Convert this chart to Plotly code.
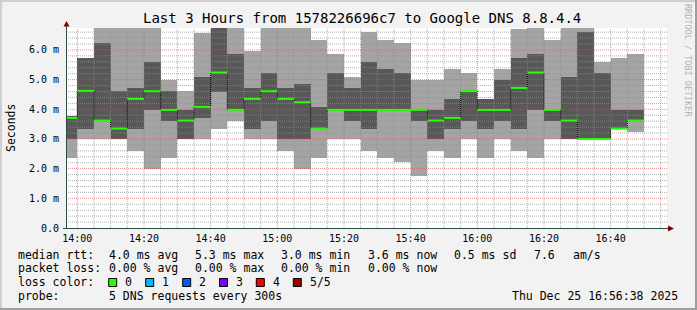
import plotly.graph_objects as go
import numpy as np

# ---------------- data ----------------
# bar start times, minutes relative to 14:00 (5-minute steps)
bar_start = [-5, 0, 5, 10, 15, 20, 25, 30, 35, 40, 45, 50, 55, 60, 65, 70, 75, 80,
             85, 90, 95, 100, 105, 110, 115, 120, 125, 130, 135, 140, 145, 150, 155, 160, 165]
ping_min = [2.35, 3.0, 3.0, 3.0, 2.60, 1.99, 2.35, 3.0, 3.0, 3.34, 3.61, 3.0, 3.0, 2.60, 1.99, 2.35, 3.0, 3.0,
            2.60, 2.35, 2.24, 1.74, 2.60, 2.35, 3.0, 2.35, 3.0, 2.60, 2.35, 3.0, 3.0, 3.0, 3.0, 3.34, 3.24]
ping_lo = [3.0, 3.34, 3.62, 3.0, 3.34, 3.98, 3.61, 3.0, 3.72, 4.60, 3.98, 3.34, 3.61, 3.0, 3.0, 3.34, 3.98, 3.61,
           3.34, 3.98, 3.98, 3.61, 3.0, 3.34, 3.61, 3.34, 3.61, 3.34, 3.98, 3.61, 3.0, 3.0, 3.0, 3.34, 3.62]
ping_med = [3.71, 4.62, 3.62, 3.35, 4.35, 4.61, 3.98, 3.62, 4.08, 5.24, 3.98, 4.35, 4.61, 4.35, 4.24, 3.35, 3.98, 3.98,
            3.98, 3.98, 3.98, 3.98, 3.62, 3.71, 4.61, 3.98, 3.98, 4.72, 5.24, 3.98, 3.62, 3.0, 3.0, 3.35, 3.62]
ping_hi = [3.76, 5.74, 6.25, 4.62, 4.72, 5.60, 4.62, 3.98, 5.10, 7.20, 5.87, 4.72, 5.21, 4.72, 4.85, 4.09, 5.21, 4.72,
           5.60, 5.36, 5.21, 3.98, 3.98, 4.35, 4.62, 4.35, 4.99, 5.74, 5.87, 3.98, 5.10, 6.59, 5.21, 3.98, 3.98]
ping_max = [3.76, 5.74, 7.5, 7.5, 7.5, 7.5, 4.99, 4.62, 6.58, 7.5, 7.5, 5.96, 7.5, 7.5, 7.5, 6.34, 5.87, 5.10,
            6.59, 6.34, 6.23, 4.99, 4.99, 5.36, 5.24, 4.35, 5.36, 6.70, 7.5, 6.34, 7.5, 7.5, 5.60, 5.74, 5.87]
step_minutes = 5

x_tick_vals = [0, 20, 40, 60, 80, 100, 120, 140, 160]
x_tick_text = ["14:00", "14:20", "14:40", "15:00", "15:20", "15:40", "16:00", "16:20", "16:40"]
y_tick_vals = [0, 1, 2, 3, 4, 5, 6]
y_tick_text = ["0.0", "1.0 m", "2.0 m", "3.0 m", "4.0 m", "5.0 m", "6.0 m"]

title_text = "Last 3 Hours from 1578226696c7 to Google DNS 8.8.4.4"
y_title = "Seconds"
watermark = "RRDTOOL / TOBI OETIKER"
row_labels = ["median rtt:", "packet loss:", "loss color:", "probe:"]
median_fields = ["4.0 ms avg", "5.3 ms max", "3.0 ms min", "3.6 ms now", "0.5 ms sd", "7.6", "am/s"]
loss_fields = ["0.00 % avg", "0.00 % max", "0.00 % min", "0.00 % now"]
loss_names = ["0", "1", "2", "3", "4", "5/5"]
loss_colors = ["#26ff00", "#00b8ff", "#0059ff", "#7e00ff", "#ff0000", "#a10000"]
probe_text = "5 DNS requests every 300s"
timestamp = "Thu Dec 25 16:56:38 2025"

# ---------------- geometry ----------------
W, H = 697, 310
ML, MR, MT, MB = 66, 30, 28, 82
PW, PH = W - ML - MR, H - MT - MB
XR = [-3.39, -3.39 + PW * 0.3]
YR = [0, 6.74]
FONT = "DejaVu Sans Mono"


def px(x):
    return (x - ML) / PW


def py(y):
    return (H - MB - y) / PH


fig = go.Figure()

centers = [s + step_minutes / 2 for s in bar_start]
# outer smoke (min..max)
fig.add_trace(go.Bar(x=centers, base=ping_min, y=[a - b for a, b in zip(ping_max, ping_min)],
                     width=step_minutes, marker=dict(color="#a4a4a4", line=dict(width=0)),
                     hoverinfo="skip"))
# inner smoke
fig.add_trace(go.Bar(x=centers, base=ping_lo, y=[a - b for a, b in zip(ping_hi, ping_lo)],
                     width=step_minutes, marker=dict(color="#585858", line=dict(width=0)),
                     hoverinfo="skip"))


# grid (drawn over smoke, as rrdtool does)
def seg_lines(vals, horizontal):
    xs, ys = [], []
    for v in vals:
        if horizontal:
            xs += [XR[0], XR[1], None]
            ys += [v, v, None]
        else:
            xs += [v, v, None]
            ys += [YR[0], YR[1], None]
    return xs, ys


minor_h = [round(v, 1) for v in np.arange(0.2, 6.7, 0.2) if abs(v - round(v)) > 1e-6]
major_h = [1, 2, 3, 4, 5, 6]
minor_v = [v for v in range(5, 180, 5) if v % 20 != 0]
major_v = list(range(0, 180, 20))
for vals, hor, col in [(minor_h, True, "rgba(143,143,143,0.7)"), (minor_v, False, "rgba(143,143,143,0.7)"),
                       (major_h, True, "rgba(222,80,80,0.65)"), (major_v, False, "rgba(222,80,80,0.65)")]:
    xs, ys = seg_lines(vals, hor)
    fig.add_trace(go.Scatter(x=xs, y=ys, mode="lines", line=dict(color=col, width=1, dash="1px,1px"),
                             hoverinfo="skip"))

# median: black dotted step connectors
fig.add_trace(go.Scatter(x=bar_start + [bar_start[-1] + step_minutes], y=ping_med + [ping_med[-1]],
                         mode="lines", line=dict(color="#000000", width=1, dash="1px,1px", shape="hv"),
                         hoverinfo="skip"))
# median: green segments
mx, my = [], []
for s, m in zip(bar_start, ping_med):
    mx += [s, s + step_minutes, None]
    my += [m, m, None]
fig.add_trace(go.Scatter(x=mx, y=my, mode="lines", line=dict(color=loss_colors[0], width=2),
                         hoverinfo="skip"))

shapes = []
axis_col = "#2c4d43"
arrow_col = "#7f0000"
# axes
shapes.append(dict(type="line", xref="paper", yref="paper", x0=px(66.5), x1=px(66.5), y0=py(228.5), y1=py(25),
                   line=dict(color=axis_col, width=1)))
shapes.append(dict(type="line", xref="paper", yref="paper", x0=px(63), x1=px(669), y0=py(228.5), y1=py(228.5),
                   line=dict(color=axis_col, width=1)))
shapes.append(dict(type="path", xref="paper", yref="paper",
                   path=f"M {px(63.5)} {py(26.5)} L {px(69.5)} {py(26.5)} L {px(66.5)} {py(21)} Z",
                   fillcolor=arrow_col, line=dict(width=0)))
shapes.append(dict(type="path", xref="paper", yref="paper",
                   path=f"M {px(668)} {py(225.5)} L {px(668)} {py(231.5)} L {px(674)} {py(228.5)} Z",
                   fillcolor=arrow_col, line=dict(width=0)))
# 3D frame
shapes.append(dict(type="rect", xref="paper", yref="paper", x0=px(0), x1=px(W), y0=py(0), y1=py(2),
                   fillcolor="#cfcfcf", line=dict(width=0)))
shapes.append(dict(type="rect", xref="paper", yref="paper", x0=px(0), x1=px(2), y0=py(0), y1=py(H),
                   fillcolor="#cfcfcf", line=dict(width=0)))
shapes.append(dict(type="rect", xref="paper", yref="paper", x0=px(0), x1=px(W), y0=py(H - 2), y1=py(H),
                   fillcolor="#9e9e9e", line=dict(width=0)))
shapes.append(dict(type="rect", xref="paper", yref="paper", x0=px(W - 2), x1=px(W), y0=py(0), y1=py(H),
                   fillcolor="#9e9e9e", line=dict(width=0)))

annotations = []


def txt(x, y, s, size=11.5, anchor="left", color="#000000", angle=0):
    annotations.append(dict(x=px(x), y=py(y), xref="paper", yref="paper", text=s, showarrow=False,
                            xanchor=anchor, yanchor="middle", textangle=angle,
                            font=dict(family=FONT, size=size, color=color)))


txt(362, 18.5, title_text, size=14, anchor="center")
txt(11, 128, y_title, size=11.5, anchor="center", angle=-90)
txt(688, 60, watermark, size=8.5, anchor="center", color="#b4b4b4", angle=90)

row_y = [254.5, 268.3, 282.2, 295.8]
for lab, yy in zip(row_labels, row_y):
    txt(16, yy, lab)
med_x = [107.3, 193.3, 279.3, 365.7, 451.7, 531.7, 571.3]
for s, xx in zip(median_fields, med_x):
    txt(xx, row_y[0], s)
for s, xx in zip(loss_fields, med_x):
    txt(xx, row_y[1], s)
box_x = [108.7, 145.7, 182.7, 219.5, 256.3, 293.3]
for name, col, bx in zip(loss_names, loss_colors, box_x):
    shapes.append(dict(type="rect", xref="paper", yref="paper", x0=px(bx), x1=px(bx + 8),
                       y0=py(278.5), y1=py(286.5), fillcolor=col, line=dict(color="#000000", width=1)))
    txt(bx + 14.5, row_y[2], name)
txt(107.3, row_y[3], probe_text)
txt(680, row_y[3], timestamp, anchor="right")

fig.update_layout(
    width=W, height=H, margin=dict(l=ML, r=MR, t=MT, b=MB, pad=0),
    paper_bgcolor="#f2f2f2", plot_bgcolor="#ffffff",
    barmode="overlay", bargap=0, showlegend=False,
    shapes=shapes, annotations=annotations,
    font=dict(family=FONT, color="#000000"),
)
fig.update_xaxes(range=XR, showgrid=False, zeroline=False, showline=False, tickmode="array",
                 tickvals=x_tick_vals, ticktext=x_tick_text, ticks="", ticklabelstandoff=3,
                 tickfont=dict(size=10, family=FONT))
fig.update_yaxes(range=YR, showgrid=False, zeroline=False, showline=False, tickmode="array",
                 tickvals=y_tick_vals, ticktext=y_tick_text, ticks="", ticklabelstandoff=6,
                 tickfont=dict(size=10, family=FONT))

fig.write_html("out.html")
